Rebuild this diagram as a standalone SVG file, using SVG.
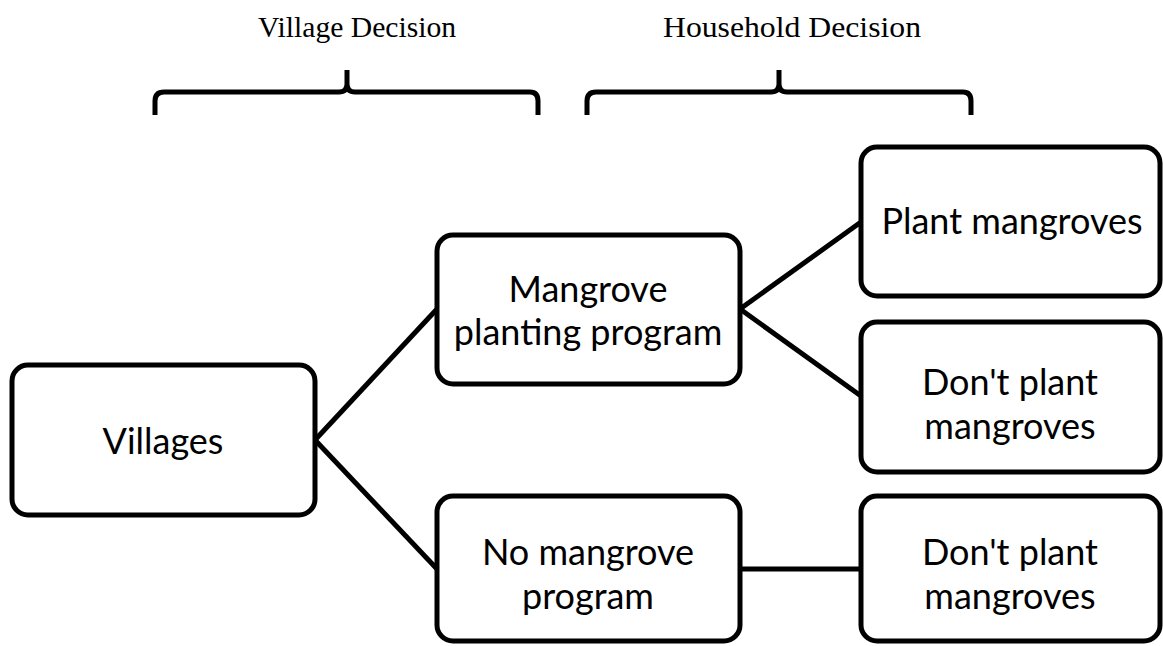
<svg xmlns="http://www.w3.org/2000/svg" width="1163" height="646" viewBox="0 0 1163 646">
<style>
.box{fill:#fff;stroke:#000;stroke-width:5}
.lbl{font-family:Lato,"Noto Sans",sans-serif;font-size:36px;fill:#000;text-anchor:middle}
.hdr{font-family:"Liberation Serif","Times New Roman",serif;font-size:30px;fill:#000;text-anchor:middle}
.brace{fill:none;stroke:#000;stroke-width:5;stroke-linejoin:round}
.conn{stroke:#000;stroke-width:5;fill:none}
</style>
<rect width="1163" height="646" fill="#fff"/>
<g id="headers">
<text class="hdr" x="357" y="37" textLength="198" lengthAdjust="spacingAndGlyphs">Village Decision</text>
<text class="hdr" x="792" y="37" textLength="258" lengthAdjust="spacingAndGlyphs">Household Decision</text>
</g>
<g id="braces">
<path class="brace" d="M155,115 V101 Q155,92 164,92 H339 Q347,92 347,84 V70 M347,84 Q347,92 355,92 H530 Q538,92 538,101 V115"/>
<path class="brace" d="M587,115 V101 Q587,92 596,92 H771 Q779,92 779,84 V70 M779,84 Q779,92 787,92 H963 Q971,92 971,101 V115"/>
</g>
<g id="connectors">
<line class="conn" x1="315" y1="440" x2="437" y2="309"/>
<line class="conn" x1="315" y1="440" x2="437" y2="569"/>
<line class="conn" x1="740" y1="309" x2="861" y2="222"/>
<line class="conn" x1="740" y1="309" x2="861" y2="396"/>
<line class="conn" x1="740" y1="569" x2="861" y2="569"/>
</g>
<g id="villages">
<rect class="box" x="12" y="365" width="303" height="150" rx="16"/>
<text class="lbl" x="163" y="454">Villages</text>
</g>
<g id="mangrove-program">
<rect class="box" x="437" y="235" width="303" height="149" rx="16"/>
<text class="lbl" x="588" y="302">Mangrove</text>
<text class="lbl" x="588" y="345">planting program</text>
</g>
<g id="no-program">
<rect class="box" x="437" y="496" width="303" height="145" rx="16"/>
<text class="lbl" x="588" y="565">No mangrove</text>
<text class="lbl" x="588" y="609">program</text>
</g>
<g id="plant">
<rect class="box" x="861" y="147" width="299" height="149" rx="16"/>
<text class="lbl" x="1012" y="234">Plant mangroves</text>
</g>
<g id="dont-plant-1">
<rect class="box" x="861" y="322" width="299" height="150" rx="16"/>
<text class="lbl" x="1010" y="395">Don't plant</text>
<text class="lbl" x="1010" y="439">mangroves</text>
</g>
<g id="dont-plant-2">
<rect class="box" x="861" y="496" width="299" height="145" rx="16"/>
<text class="lbl" x="1010" y="565">Don't plant</text>
<text class="lbl" x="1010" y="609">mangroves</text>
</g>
</svg>
